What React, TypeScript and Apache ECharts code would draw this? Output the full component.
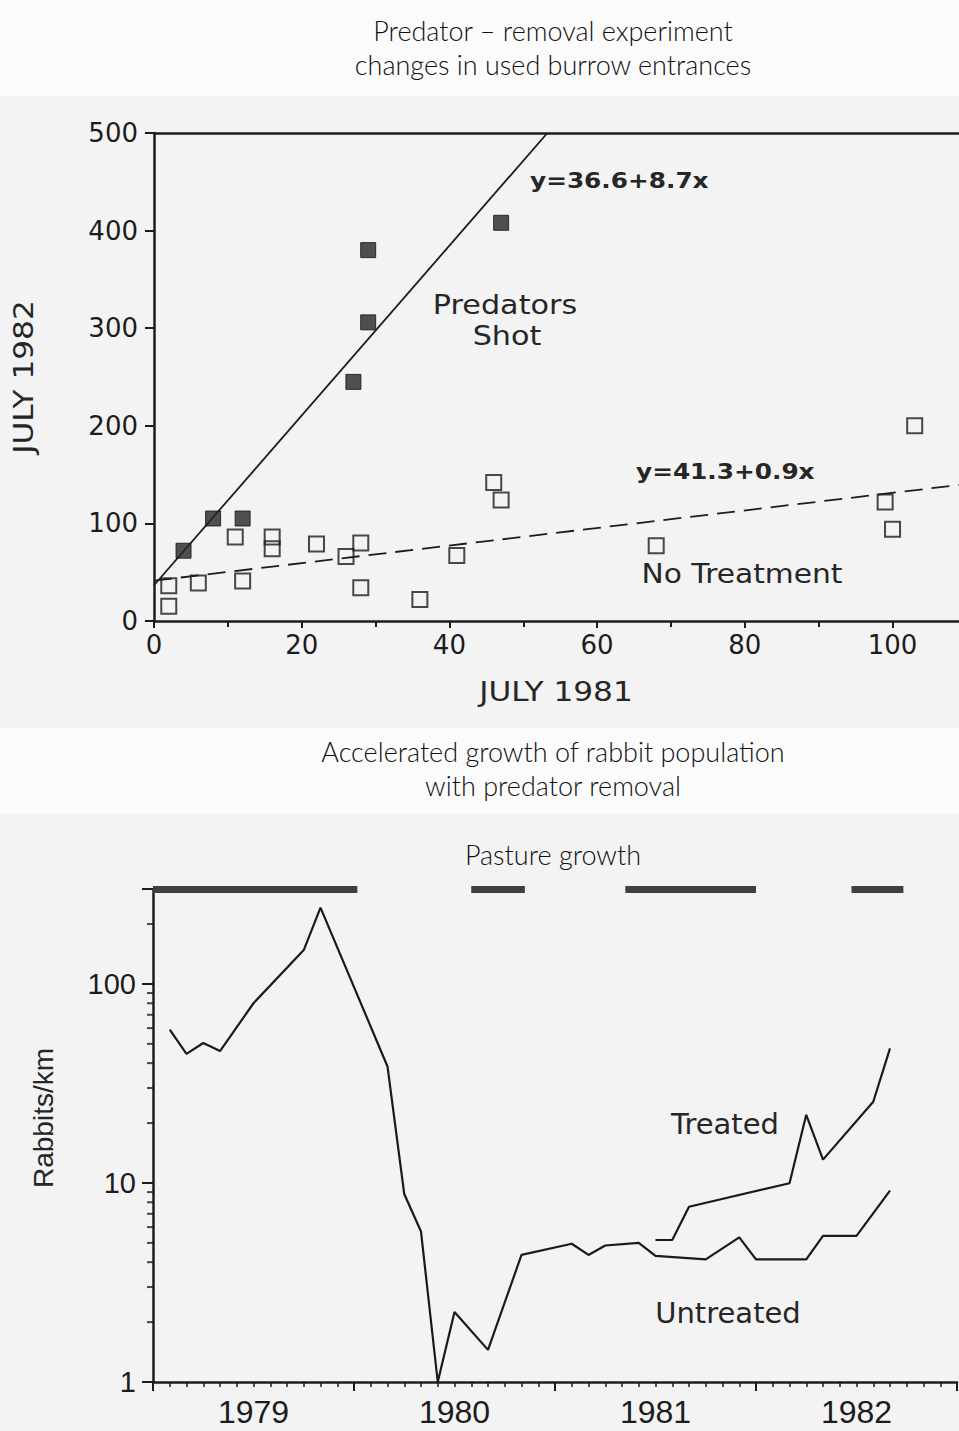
import React, { useEffect, useRef } from "react";
import * as echarts from "echarts";

// ---------- Top chart: burrow entrances (July 1981 vs July 1982) ----------
const predatorX = [4, 8, 12, 27, 29, 29, 47];
const predatorY = [72, 105, 105, 245, 306, 380, 408];
const controlX = [2, 2, 6, 11, 12, 16, 16, 22, 26, 28, 28, 36, 41, 46, 47, 68, 99, 100, 103];
const controlY = [36, 15, 39, 86, 41, 86, 74, 79, 66, 80, 34, 22, 67, 142, 124, 77, 122, 94, 200];
const predatorFit = { intercept: 36.6, slope: 8.7 };
const controlFit = { intercept: 41.3, slope: 0.9 };
const burrowMaxY = 500;
const burrowMaxX = 120;

// ---------- Bottom chart: rabbits/km, months since Jan 1979 ----------
const untreatedMonth = [1, 2, 3, 4, 6, 9, 10, 14, 15, 16, 17, 18, 20, 22, 25, 26, 27, 29, 30, 33, 35, 36, 39, 40, 42, 44];
const untreatedValue = [59, 44.5, 50.5, 46, 80, 148, 242, 38.5, 8.8, 5.7, 1.0, 2.25, 1.45, 4.35, 4.95, 4.35, 4.85, 5.0, 4.3, 4.13, 5.33, 4.13, 4.13, 5.42, 5.42, 9.15];
const treatedMonth = [30, 31, 32, 38, 39, 40, 43, 44];
const treatedValue = [5.17, 5.17, 7.6, 9.97, 22.0, 13.1, 25.6, 47.5];
const pastureStart = [0, 19, 28.2, 41.7];
const pastureEnd = [12.2, 22.2, 36, 44.8];
const yearLabels = ["1979", "1980", "1981", "1982"];
const logLabels = [1, 10, 100];
const logMinorTicks = [2, 3, 4, 5, 6, 7, 8, 9, 20, 30, 40, 50, 60, 70, 80, 90, 200];
const rabbitMax = 300;

const INK = "#1c1c1c";
const CHART_FONT = "DejaVu Sans";
const TITLE_FONT = "Lato";

export default function App() {
  const ref = useRef<HTMLDivElement>(null);

  useEffect(() => {
    if (!ref.current) return;
    const chart = echarts.init(ref.current, undefined, { renderer: "svg" });

    const predatorData = predatorX.map((x, i) => [x, predatorY[i]]);
    const controlData = controlX.map((x, i) => [x, controlY[i]]);
    const predatorEndX = (burrowMaxY - predatorFit.intercept) / predatorFit.slope;
    const predatorLine = [
      [0, predatorFit.intercept],
      [predatorEndX, predatorFit.intercept + predatorFit.slope * predatorEndX],
    ];
    const controlLine = [
      [0, controlFit.intercept],
      [burrowMaxX, controlFit.intercept + controlFit.slope * burrowMaxX],
    ];
    const untreatedData = untreatedMonth.map((m, i) => [m, untreatedValue[i]]);
    const treatedData = treatedMonth.map((m, i) => [m, treatedValue[i]]);
    const pastureData = pastureStart.map((s, i) => ({
      coords: [
        [s, rabbitMax],
        [pastureEnd[i], rabbitMax],
      ],
    }));

    const annot = (text: string, x: number, y: number, size: number, opts: any = {}) => ({
      type: "text",
      x,
      y,
      scaleX: opts.scaleX ?? 1,
      rotation: opts.rotation ?? 0,
      style: {
        text,
        fill: opts.fill ?? "#262626",
        font: `${opts.weight ?? "normal"} ${size}px "${opts.family ?? CHART_FONT}"`,
        textAlign: opts.align ?? "center",
        textVerticalAlign: "middle",
      },
    });
    const title = (text: string, y: number) => ({
      type: "text",
      x: 553,
      y,
      style: {
        text,
        fill: "#111",
        font: `300 27px "${TITLE_FONT}"`,
        textAlign: "center",
        textVerticalAlign: "middle",
      },
    });

    chart.setOption({
      animation: false,
      backgroundColor: "#f3f3f3",
      graphic: [
        { type: "rect", shape: { x: 0, y: 0, width: 1100, height: 96 }, style: { fill: "#fbfbfb" }, z: -10 },
        { type: "rect", shape: { x: 0, y: 728, width: 1100, height: 86 }, style: { fill: "#fbfbfb" }, z: -10 },
        title("Predator – removal experiment", 30),
        title("changes in used burrow entrances", 64),
        title("Accelerated growth of rabbit population", 751),
        title("with predator removal", 785),
        title("Pasture growth", 854),
        annot("Predators", 505, 305, 27, { scaleX: 1.12 }),
        annot("Shot", 507, 336, 27, { scaleX: 1.12 }),
        annot("y=36.6+8.7x", 530, 181, 21, { weight: "bold", align: "left", scaleX: 1.18 }),
        annot("y=41.3+0.9x", 636, 472, 21, { weight: "bold", align: "left", scaleX: 1.18 }),
        annot("No Treatment", 742, 574, 27, { scaleX: 1.1 }),
        annot("JULY 1981", 556, 692, 26, { scaleX: 1.2 }),
        annot("JULY 1982", 24, 377, 26, { scaleX: 1.2, rotation: Math.PI / 2 }),
        annot("Treated", 725, 1124, 29),
        annot("Untreated", 728, 1313, 29),
        annot("Rabbits/km", 43, 1118, 28, { family: "Liberation Sans", rotation: Math.PI / 2 }),
      ],
      grid: [
        { left: 154, top: 133, width: (805 / 109) * burrowMaxX, height: 488 },
        { left: 153, top: 889, width: 804, height: 493 },
      ],
      xAxis: [
        {
          gridIndex: 0,
          type: "value",
          min: 0,
          max: burrowMaxX,
          interval: 20,
          position: "bottom",
          axisLine: { show: true, lineStyle: { color: INK, width: 2.5 } },
          axisTick: { show: true, length: 7, lineStyle: { color: INK, width: 2 } },
          minorTick: { show: true, splitNumber: 2, length: 6, lineStyle: { color: INK, width: 2 } },
          splitLine: { show: false },
          axisLabel: { fontFamily: CHART_FONT, fontSize: 26, color: INK, margin: 11, showMaxLabel: false },
        },
        {
          gridIndex: 0,
          type: "value",
          min: 0,
          max: burrowMaxX,
          position: "top",
          axisLine: { show: true, lineStyle: { color: INK, width: 2.5 } },
          axisTick: { show: false },
          axisLabel: { show: false },
          splitLine: { show: false },
        },
        {
          gridIndex: 1,
          type: "value",
          min: 0,
          max: 48,
          interval: 6,
          position: "bottom",
          axisLine: { show: true, lineStyle: { color: INK, width: 2.5 } },
          axisTick: { show: false },
          splitLine: { show: false },
          axisLabel: {
            fontFamily: "Liberation Sans",
            fontSize: 32,
            color: INK,
            margin: 14,
            formatter: (v: number) => (v % 12 === 6 ? yearLabels[(v - 6) / 12] ?? "" : ""),
          },
        },
        {
          gridIndex: 1,
          type: "value",
          min: 0,
          max: 48,
          interval: 12,
          position: "bottom",
          axisLine: { show: false },
          axisTick: { show: true, length: 9, lineStyle: { color: INK, width: 2 } },
          minorTick: { show: true, splitNumber: 12, length: 5, lineStyle: { color: INK, width: 1.5 } },
          axisLabel: { show: false },
          splitLine: { show: false },
        },
      ],
      yAxis: [
        {
          gridIndex: 0,
          type: "value",
          min: 0,
          max: burrowMaxY,
          interval: 100,
          axisLine: { show: true, lineStyle: { color: INK, width: 2.5 } },
          axisTick: { show: true, length: 9, lineStyle: { color: INK, width: 2 } },
          splitLine: { show: false },
          axisLabel: { fontFamily: CHART_FONT, fontSize: 26, color: INK, margin: 16 },
        },
        {
          gridIndex: 1,
          type: "log",
          logBase: 10,
          min: 1,
          max: rabbitMax,
          axisLine: { show: true, lineStyle: { color: INK, width: 2.5 } },
          axisTick: { show: true, length: 11, lineStyle: { color: INK, width: 2 } },
          splitLine: { show: false },
          axisLabel: {
            fontFamily: "Liberation Sans",
            fontSize: 29,
            color: INK,
            margin: 17,
            formatter: (v: number) => {
              const hit = logLabels.find((l) => Math.abs(l - v) < l * 1e-6);
              return hit !== undefined ? String(hit) : "";
            },
          },
        },
      ],
      series: [
        {
          name: "Predators Shot",
          type: "scatter",
          xAxisIndex: 0,
          yAxisIndex: 0,
          data: predatorData,
          symbol: "rect",
          symbolSize: 15,
          itemStyle: { color: "#262626", borderColor: "#111", borderWidth: 1 },
          z: 5,
        },
        {
          name: "No Treatment",
          type: "scatter",
          xAxisIndex: 0,
          yAxisIndex: 0,
          data: controlData,
          symbol: "rect",
          symbolSize: 15,
          itemStyle: { color: "rgba(0,0,0,0)", borderColor: INK, borderWidth: 2 },
          z: 5,
        },
        {
          name: "Predators fit",
          type: "line",
          xAxisIndex: 0,
          yAxisIndex: 0,
          data: predatorLine,
          showSymbol: false,
          lineStyle: { color: INK, width: 1.8 },
        },
        {
          name: "No Treatment fit",
          type: "line",
          xAxisIndex: 0,
          yAxisIndex: 0,
          data: controlLine,
          showSymbol: false,
          lineStyle: { color: INK, width: 1.8, type: [18, 9] },
        },
        {
          name: "Untreated",
          type: "line",
          xAxisIndex: 2,
          yAxisIndex: 1,
          data: untreatedData,
          showSymbol: false,
          lineStyle: { color: "#1a1a1a", width: 2.2 },
        },
        {
          name: "Treated",
          type: "line",
          xAxisIndex: 2,
          yAxisIndex: 1,
          data: treatedData,
          showSymbol: false,
          lineStyle: { color: "#1a1a1a", width: 2.2 },
        },
        {
          name: "Pasture growth",
          type: "lines",
          coordinateSystem: "cartesian2d",
          xAxisIndex: 2,
          yAxisIndex: 1,
          data: pastureData,
          clip: false,
          lineStyle: { color: "#3f3f3f", width: 7, opacity: 1 },
          silent: true,
        },
        {
          name: "log minor ticks",
          type: "scatter",
          xAxisIndex: 2,
          yAxisIndex: 1,
          data: logMinorTicks.map((v) => [0, v]),
          symbol: "rect",
          symbolSize: [6, 2],
          symbolOffset: [-3, 0],
          itemStyle: { color: INK },
          clip: false,
          silent: true,
        },
      ],
    });

    return () => chart.dispose();
  }, []);

  return (
    <div style={{ position: "absolute", left: 0, top: 0, width: 959, height: 1431, overflow: "hidden" }}>
      <div ref={ref} style={{ width: 1060, height: 1431 }} />
    </div>
  );
}
